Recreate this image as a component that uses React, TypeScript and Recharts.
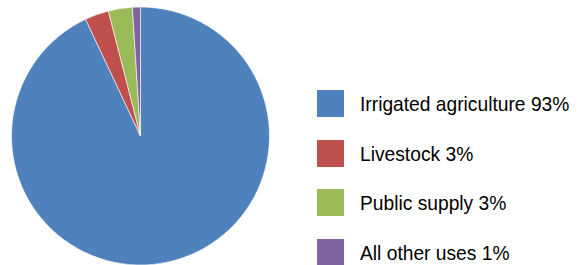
import React from "react";
import { PieChart, Pie, Cell, Legend } from "recharts";

const labels = ["Irrigated agriculture", "Livestock", "Public supply", "All other uses"];
const shares = [93, 3, 3, 1];
const colors = ["#4F81BD", "#C0504D", "#9BBB59", "#8064A2"];

const data = labels.map((name, i) => ({ name, value: shares[i] }));

const renderLegend = () => (
  <div style={{ fontFamily: "'Liberation Sans', Arial, sans-serif" }}>
    {data.map((d, i) => (
      <div key={d.name} style={{ display: "flex", alignItems: "center", height: 27, marginBottom: i < data.length - 1 ? 22.5 : 0 }}>
        <div style={{ width: 27, height: 27, background: colors[i], flex: "none" }} />
        <span
          style={{
            marginLeft: 16,
            fontSize: 21,
            color: "#000",
            whiteSpace: "nowrap",
            display: "inline-block",
            transform: "scaleX(0.915)",
            transformOrigin: "left center",
            lineHeight: "27px",
          }}
        >
          {d.name} {d.value}%
        </span>
      </div>
    ))}
  </div>
);

export default function App() {
  return (
    <div style={{ position: "absolute", left: 0, top: 0, background: "#fff" }}>
      <PieChart width={584} height={265} margin={{ top: 0, right: 0, bottom: 0, left: 0 }}>
        <Pie
          data={data}
          dataKey="value"
          nameKey="name"
          cx={140.5}
          cy={136}
          outerRadius={129}
          startAngle={90}
          endAngle={-270}
          stroke="#ffffff"
          strokeWidth={0.6}
          isAnimationActive={false}
        >
          {data.map((d, i) => (
            <Cell key={d.name} fill={colors[i]} />
          ))}
        </Pie>
        <Legend
          content={renderLegend}
          layout="vertical"
          wrapperStyle={{ position: "absolute", left: 317, top: 90, width: 267 }}
        />
      </PieChart>
    </div>
  );
}
